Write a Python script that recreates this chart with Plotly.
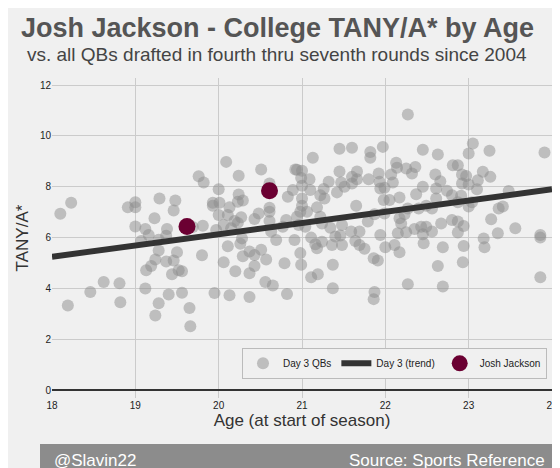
import plotly.graph_objs as go

# Day 3 QBs: age at start of season, TANY/A
ages = [18.10, 18.23, 18.19, 18.46, 18.62, 18.81, 18.82, 18.91, 19.0, 19.0, 19.0, 19.12, 19.16, 19.07, 19.23,
        19.29, 19.48, 19.46, 19.38, 19.37, 19.28, 19.28, 19.24, 19.19, 19.13, 19.37, 19.46, 19.50, 19.44, 19.52,
        19.56, 19.12, 19.28, 19.40, 19.56, 19.65, 19.24, 19.66, 19.76, 19.82, 19.69, 19.81, 19.80, 20.09, 20.24,
        20.0, 19.93, 20.01, 19.93, 20.13, 20.24, 20.23, 20.29, 20.0, 20.11, 20.19, 20.27, 20.23, 19.97, 20.06,
        20.15, 20.28, 20.26, 20.11, 20.06, 20.20, 20.29, 20.37, 20.43, 20.51, 20.57, 20.43, 20.37, 19.95, 20.13,
        20.37, 20.56, 20.65, 20.82, 20.79, 20.51, 20.61, 20.92, 20.48, 20.43, 20.61, 20.61, 20.61, 20.63, 20.69,
        20.81, 20.83, 20.89, 20.91, 20.77,
        22.27, 21.13, 21.45, 21.60, 21.82, 21.82, 21.97, 22.45, 22.63, 23.0, 23.05, 23.25, 23.91, 20.94, 21.0,
        20.99, 21.09, 21.0, 21.1, 21.32, 21.45, 21.47, 21.51, 21.60, 21.60, 21.66, 21.66, 21.80, 21.92, 21.93,
        21.94, 21.99, 22.07, 22.09, 22.13, 22.14, 22.25, 22.32, 22.36, 22.45, 22.37, 22.60, 22.66, 22.61, 22.81,
        22.87, 22.92, 22.97, 23.11, 23.17, 23.26, 22.92, 23.0, 23.10, 22.74, 22.80, 22.91, 23.48, 21.26, 21.22,
        21.27, 21.0, 21.0, 20.98, 21.18, 21.06, 20.94, 21.22, 21.24, 20.96, 21.04, 21.42, 21.65, 21.98, 22.05,
        22.17, 22.27, 22.40, 22.49, 22.61, 22.56, 22.87, 23.0, 23.04, 23.36, 23.41, 21.79, 21.87, 21.99, 22.17,
        22.19, 22.23, 22.35, 22.43, 22.49, 22.67, 22.80, 22.87, 22.94, 22.87, 22.56, 22.45, 22.15, 22.25, 21.94,
        23.27, 23.35, 23.56, 23.18, 23.19, 23.86, 23.86, 23.86, 21.34, 21.48, 21.59, 21.69, 21.40, 21.46, 21.11,
        21.16, 21.18, 21.24, 21.36, 21.48, 21.64, 21.69, 21.75, 22.0, 22.11, 22.17, 22.46, 22.69, 22.94, 20.98,
        20.99, 21.37, 21.11, 21.19, 21.86, 21.91, 22.63, 22.93, 21.37, 22.27, 22.69, 21.87, 21.86]
tanya = [6.94, 7.37, 3.33, 3.86, 4.25, 4.20, 3.46, 7.19, 7.39, 7.19, 6.44, 6.34, 6.10, 5.87, 6.76,
         7.54, 7.46, 7.07, 6.34, 6.07, 5.92, 5.49, 5.14, 4.88, 4.72, 5.06, 5.10, 5.42, 4.56, 4.72,
         4.68, 4.0, 3.42, 3.76, 3.83, 3.23, 2.94, 2.51, 8.41, 8.17, 6.42, 6.47, 5.31, 8.98, 8.43,
         7.9, 7.37, 7.37, 7.25, 7.19, 7.70, 7.41, 7.46, 6.89, 6.89, 6.65, 6.80, 6.58, 6.30, 6.50,
         6.37, 5.97, 5.76, 5.66, 5.03, 4.68, 5.27, 5.45, 5.32, 5.52, 5.14, 4.88, 4.60, 3.82, 3.73,
         3.66, 4.25, 4.12, 3.78, 4.99, 8.68, 8.13, 8.68, 6.95, 6.73, 7.18, 7.02, 6.65, 6.24, 5.91,
         6.69, 7.61, 7.87, 5.91, 6.43,
         10.84, 9.14, 9.50, 9.54, 9.37, 9.14, 9.57, 9.46, 9.27, 9.31, 9.70, 9.42, 9.35, 8.67, 8.63,
         8.35, 8.30, 8.04, 7.87, 8.20, 8.60, 8.17, 8.0, 8.39, 8.13, 8.60, 8.30, 8.30, 8.52, 8.20,
         7.93, 7.96, 8.48, 8.17, 8.95, 8.75, 8.72, 8.52, 8.78, 8.0, 7.71, 8.48, 8.22, 7.93, 8.85,
         8.85, 8.48, 8.42, 8.26, 8.59, 8.39, 8.13, 8.09, 7.90, 7.84, 7.67, 7.65, 7.83, 7.91, 7.67,
         7.54, 7.54, 7.25, 7.02, 7.19, 7.02, 6.82, 6.82, 6.56, 6.50, 6.43, 7.78, 7.25, 7.48, 7.48,
         7.58, 7.15, 7.15, 7.25, 7.54, 7.15, 7.39, 7.22, 7.39, 7.15, 7.22, 6.63, 6.92, 6.95, 6.76,
         6.56, 6.92, 6.34, 6.43, 6.43, 6.56, 6.69, 6.63, 6.46, 6.20, 6.24, 6.13, 6.17, 6.21, 6.10,
         6.72, 6.17, 6.37, 5.97, 5.62, 6.10, 6.0, 4.44, 6.39, 6.50, 6.24, 6.24, 6.04, 6.08, 6.0,
         5.74, 5.58, 5.84, 5.71, 5.71, 5.87, 5.71, 5.56, 5.62, 5.71, 5.42, 5.78, 5.62, 5.67, 5.39,
         4.93, 4.93, 4.44, 4.56, 5.19, 5.10, 4.88, 5.03, 4.01, 4.17, 4.08, 3.86, 3.58]

trend_x = [18, 24]
trend_y = [5.25, 7.9]

josh_age = [19.62, 20.61]
josh_tanya = [6.44, 7.84]

bg = "#f0f0f0"
fig = go.Figure()
fig.add_trace(go.Scatter(x=ages, y=tanya, mode="markers", name="Day 3 QBs",
                         marker=dict(size=12, color="#8c8c8c", opacity=0.5, line=dict(width=0))))
fig.add_trace(go.Scatter(x=trend_x, y=trend_y, mode="lines", name="Day 3 (trend)",
                         line=dict(color="#333333", width=6)))
fig.add_trace(go.Scatter(x=josh_age, y=josh_tanya, mode="markers", name="Josh Jackson",
                         marker=dict(size=17, color="#6b0032")))

fig.update_layout(
    width=560, height=468, paper_bgcolor=bg, plot_bgcolor=bg,
    margin=dict(l=44, r=16, t=70, b=78, autoexpand=False),
    font=dict(family="Liberation Sans", color="#444"),
    showlegend=True,
    legend=dict(orientation="h", x=0.99, y=0.06, xanchor="right", yanchor="bottom",
                bgcolor=bg, bordercolor="#bbbbbb", borderwidth=1, font=dict(size=10, color="#222")),
    xaxis=dict(range=[18, 24], tickvals=[18, 19, 20, 21, 22, 23, 24], tickfont=dict(size=10, color="#222"),
               gridcolor="#cbcbcb", zeroline=False, showline=False,
               title=dict(text="Age (at start of season)", font=dict(size=17, color="#333"), standoff=4)),
    yaxis=dict(range=[-0.31, 12.28], tickvals=[0, 2, 4, 6, 8, 10, 12], tickfont=dict(size=10, color="#222"),
               gridcolor="#cbcbcb", zeroline=True, zerolinecolor="#333", zerolinewidth=2,
               title=dict(text="TANY/A*", font=dict(size=17, color="#333"), standoff=6)),
    shapes=[dict(type="rect", xref="paper", yref="paper", x0=-0.024, x1=1.008, y0=-0.244, y1=-0.144,
                 fillcolor="#8c8c8c", line=dict(width=0), layer="above")],
    annotations=[
        dict(text="<b>Josh Jackson - College TANY/A* by Age</b>", xref="paper", yref="paper",
             x=0.45, y=1.156, xanchor="center", yanchor="middle", showarrow=False,
             font=dict(size=27, color="#555")),
        dict(text="vs. all QBs drafted in fourth thru seventh rounds since 2004", xref="paper", yref="paper",
             x=0.45, y=1.075, xanchor="center", yanchor="middle", showarrow=False,
             font=dict(size=19, color="#444")),
        dict(text="@Slavin22", xref="paper", yref="paper", x=0.0, y=-0.194, xanchor="left",
             yanchor="middle", showarrow=False, font=dict(size=17, color="white")),
        dict(text="Source: Sports Reference", xref="paper", yref="paper", x=0.99, y=-0.194,
             xanchor="right", yanchor="middle", showarrow=False, font=dict(size=17, color="white")),
    ],
)

fig.write_html("out.html")
